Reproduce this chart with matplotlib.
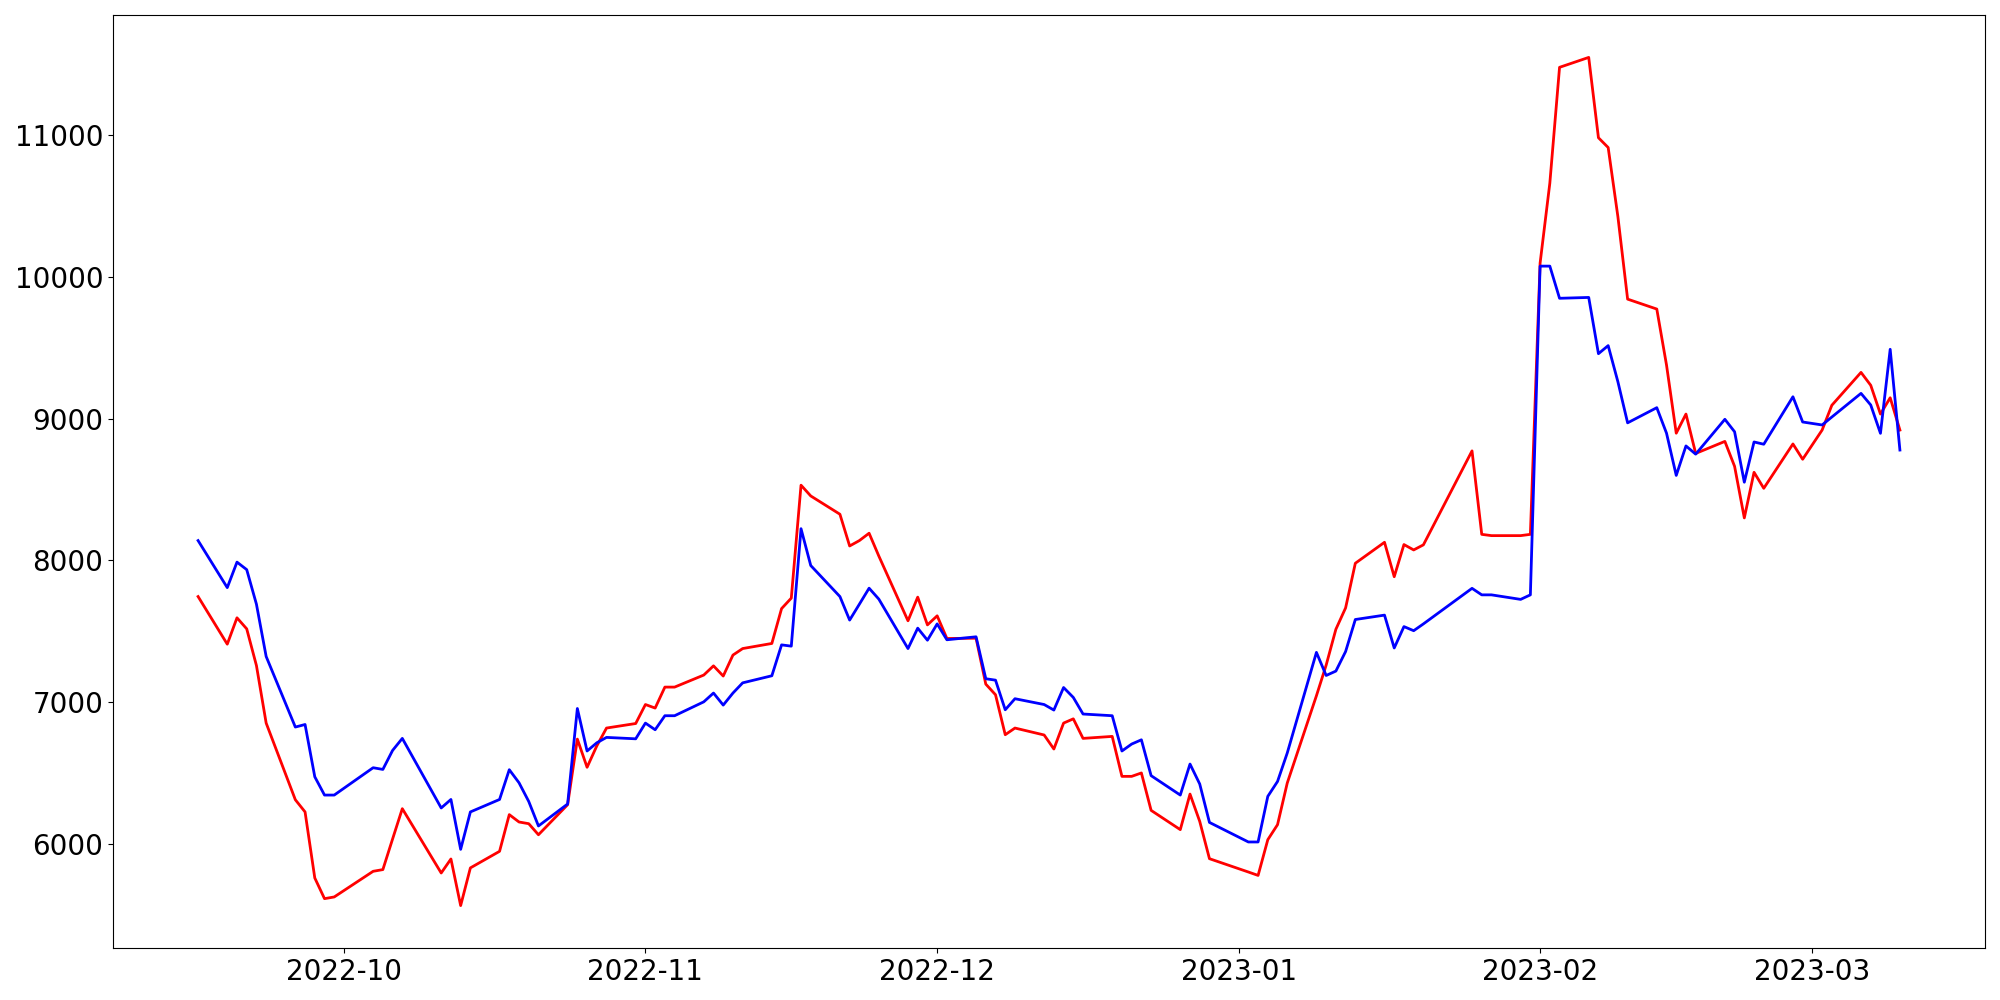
import pandas as pd
import matplotlib
matplotlib.use("Agg")
import matplotlib.pyplot as plt
import matplotlib.dates as mdates

# -------- Data --------
# trading days (weekdays minus exchange holidays)
START = "2022-09-16"
END = "2023-03-10"
HOLIDAYS = ["2022-10-03", "2022-10-10", "2022-12-30",
            "2023-01-23", "2023-01-24", "2023-03-01"]

red_values = [
    # Sep
    7744, 7408, 7594, 7516, 7257, 6851, 6310, 6224, 5758, 5612, 5624,
    # Oct
    5805, 5817, 6033, 6247, 5793, 5892, 5563, 5829, 5946, 6205, 6153, 6141,
    6063, 6275, 6738, 6539, 6690, 6816, 6848,
    # Nov
    6982, 6957, 7105, 7105, 7190, 7255, 7183, 7331, 7377, 7413, 7659, 7733,
    8530, 8454, 8325, 8101, 8139, 8191, 8030, 7573, 7740, 7544,
    # Dec
    7608, 7448, 7450, 7126, 7051, 6769, 6816, 6767, 6668, 6851, 6881, 6743,
    6757, 6475, 6475, 6499, 6235, 6099, 6350, 6157, 5894,
    # Jan
    5800, 5776, 6028, 6134, 6428, 7044, 7260, 7513, 7664, 7979, 8127, 7884,
    8111, 8073, 8109, 8772, 8183, 8174, 8174, 8183,
    # Feb
    10097, 10661, 11479, 11549, 10982, 10913, 10425, 9843, 9773, 9378, 8897,
    9032, 8754, 8839, 8663, 8299, 8621, 8508, 8821, 8713,
    # Mar
    8919, 9094, 9326, 9235, 9032, 9147, 8919,
]

blue_values = [
    # Sep
    8139, 7807, 7987, 7934, 7690, 7321, 6823, 6841, 6472, 6343, 6343,
    # Oct
    6536, 6524, 6658, 6743, 6252, 6312, 5960, 6224, 6312, 6522, 6430, 6298,
    6125, 6280, 6954, 6654, 6712, 6750, 6740,
    # Nov
    6851, 6804, 6903, 6903, 7001, 7063, 6978, 7063, 7135, 7185, 7403, 7394,
    8223, 7963, 7744, 7578, 7690, 7803, 7726, 7377, 7521, 7436,
    # Dec
    7551, 7439, 7460, 7164, 7154, 6945, 7023, 6982, 6943, 7102, 7032, 6915,
    6903, 6654, 6703, 6733, 6480, 6343, 6562, 6421, 6150,
    # Jan
    6012, 6012, 6334, 6439, 6640, 7350, 7187, 7218, 7356, 7582, 7613, 7381,
    7532, 7503, 7551, 7802, 7756, 7756, 7724, 7756,
    # Feb
    10076, 10076, 9849, 9855, 9458, 9515, 9260, 8970, 9077, 8897, 8599,
    8807, 8749, 8995, 8907, 8551, 8835, 8819, 9154, 8976,
    # Mar
    8955, 9011, 9178, 9096, 8896, 9489, 8778,
]

dates = pd.bdate_range(START, END, freq="C", holidays=HOLIDAYS)
df = pd.DataFrame({"red": red_values, "blue": blue_values}, index=dates)

# -------- Plot --------
fig = plt.figure(figsize=(20, 10), dpi=100)
ax = fig.add_axes([0.0565, 0.052, 0.936, 0.933])

ax.plot(df.index, df["red"], color="red", linewidth=2)
ax.plot(df.index, df["blue"], color="blue", linewidth=2)

ax.xaxis.set_major_locator(mdates.MonthLocator())
ax.xaxis.set_major_formatter(mdates.DateFormatter("%Y-%m"))
ax.tick_params(axis="both", labelsize=20)

fig.savefig("out.png", dpi=100)
